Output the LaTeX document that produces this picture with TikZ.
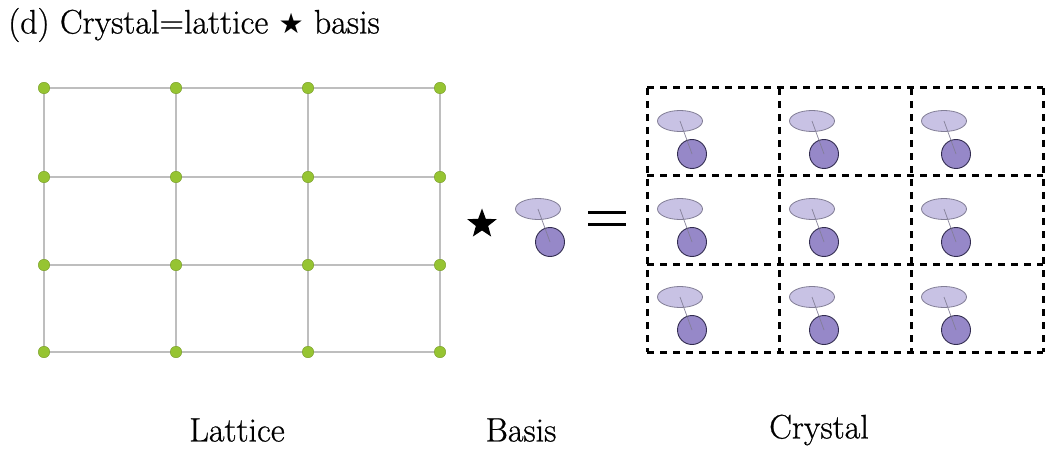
\documentclass[tikz,border=0pt]{standalone}
\usepackage{fontspec}
\newfontfamily\capfont{Latin Modern Roman}[FakeBold=0.7]
\newfontfamily\symfont{DejaVu Sans}
\usetikzlibrary{shapes.geometric}
\definecolor{dotgreen}{RGB}{150,196,50}
\definecolor{gridgray}{RGB}{190,190,190}
\definecolor{lobefill}{RGB}{200,194,228}
\definecolor{lobeedge}{RGB}{130,126,150}
\definecolor{atomfill}{RGB}{150,136,200}
\definecolor{atomedge}{RGB}{50,44,80}
\tikzset{
  site/.style={circle,fill=dotgreen,draw=dotgreen!80!black,line width=0.4pt,minimum size=11.5pt,inner sep=0pt},
  gridline/.style={draw=gridgray,line width=1.8pt},
  cellline/.style={draw=black,line width=3pt,dash pattern=on 7pt off 6pt},
  captext/.style={font=\capfont\fontsize{34}{40}\selectfont,inner sep=0pt},
  bigstar/.style={star,star points=5,star point ratio=2.4,fill=black,minimum size=31pt,inner sep=0pt},
}
% basis: ellipse lobe over a circle atom, joined by a thin bond
\newcommand{\basismol}[3]{%
  \node[ellipse,fill=lobefill,draw=lobeedge,line width=0.8pt,minimum width=45pt,minimum height=21pt,inner sep=0pt] (#3e) at (#1,#2) {};
  \node[circle,fill=atomfill,draw=atomedge,line width=0.9pt,minimum size=29pt,inner sep=0pt] (#3c) at ({#1+12},{#2+33}) {};
  \draw[draw=lobeedge,line width=0.7pt] (#3e.center) -- (#3c.center);
}
\begin{document}
\begin{tikzpicture}[x=1pt,y=-1pt]
\useasboundingbox (0,0) rectangle (1049,457);
\node[captext,anchor=west] (title) at (8,25) {(d) Crystal=lattice {\symfont\fontsize{28}{32}\selectfont ★} basis};

% lattice grid
\foreach \x in {44,176,308,440} \draw[gridline] (\x,88) -- (\x,352);
\foreach \y in {88,177,265,352} \draw[gridline] (44,\y) -- (440,\y);
\foreach \x [count=\i] in {44,176,308,440}
  \foreach \y [count=\j] in {88,177,265,352}
    \node[site] (p\i\j) at (\x,\y) {};

% star and basis
\node[bigstar] (op) at (482,224) {};
\basismol{538}{209}{b}
% equals sign
\coordinate (eqa) at (588,213);
\coordinate (eqb) at (626,213);
\coordinate (eqc) at (588,224);
\coordinate (eqd) at (626,224);
\draw[line width=3pt] (eqa) -- (eqb);
\draw[line width=3pt] (eqc) -- (eqd);

% crystal cells
\foreach \x in {647,779,911,1043} \draw[cellline] (\x,88) -- (\x,352);
\foreach \y in {88,176,264,352} \draw[cellline] (647,\y) -- (1043,\y);
\foreach \x [count=\i] in {680,812,944}
  \foreach \y [count=\j] in {121,209,297}
    {\basismol{\x}{\y}{m\i\j}}

% captions
\node[captext] (lat) at (237,430) {Lattice};
\node[captext] (bas) at (521,430) {Basis};
\node[captext] (cry) at (819,430) {Crystal};
\end{tikzpicture}
\end{document}
